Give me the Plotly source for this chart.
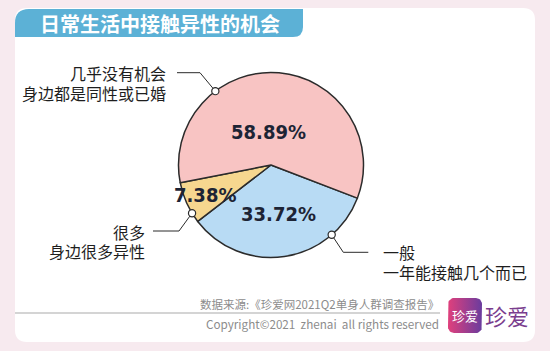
import math
import plotly.graph_objects as go

W, H = 550, 351

# ---- data ----
categories = ["一般", "很多", "几乎没有机会"]
values = [33.72, 7.38, 58.89]
pct_labels = ["33.72%", "7.38%", "58.89%"]
sub_labels = ["一年能接触几个而已", "身边很多异性", "身边都是同性或已婚"]
slice_colors = ["#b8dbf4", "#f6d78f", "#f8c4c3"]
title_text = "日常生活中接触异性的机会"
source_text = "数据来源:《珍爱网2021Q2单身人群调查报告》"
copyright_text = "Copyright©2021\u00a0\u00a0zhenai\u00a0\u00a0all rights reserved"
brand_text = "珍爱"

# ---- geometry / style ----
CX, CY, R = 271, 165, 92.5
ROT = 111
label_r = [0.53, 0.78, 0.36]
label_da = [0, 0, -9]
CJK = "Noto Sans CJK SC"
PCT_FONT = "DejaVu Sans Condensed, sans-serif"
INK = "#2b2b2b"

fig = go.Figure()

# logo with gradient (pixel coordinates on hidden axes)
def rrect(x0, y0, x1, y1, r, n=8):
    xs, ys = [], []
    corners = [(x1 - r, y0 + r, -90, 0), (x1 - r, y1 - r, 0, 90),
               (x0 + r, y1 - r, 90, 180), (x0 + r, y0 + r, 180, 270)]
    for cx, cy, a0, a1 in corners:
        for k in range(n + 1):
            a = math.radians(a0 + (a1 - a0) * k / n)
            xs.append(cx + r * math.cos(a))
            ys.append(cy + r * math.sin(a))
    xs.append(xs[0]); ys.append(ys[0])
    return xs, ys

lx, ly = rrect(448, 298, 482, 333, 6)
fig.add_trace(go.Scatter(
    x=lx, y=ly, mode="lines", fill="toself", line=dict(width=0),
    fillgradient=dict(type="horizontal",
                      colorscale=[[0, "#e0407c"], [1, "#6a3c9e"]]),
    hoverinfo="skip", showlegend=False))

fig.add_trace(go.Pie(
    values=values, labels=categories, sort=False, direction="clockwise",
    rotation=ROT, textinfo="none", hoverinfo="skip", showlegend=False,
    marker=dict(colors=slice_colors, line=dict(color=INK, width=1.5)),
    domain=dict(x=[(CX - R) / W, (CX + R) / W],
                y=[1 - (CY + R) / H, 1 - (CY - R) / H]),
))

shapes = []
# card
shapes.append(dict(type="path", xref="x", yref="y", layer="below",
                   path="M27,8 L523,8 Q535,8 535,20 L535,330 Q535,342 523,342 "
                        "L27,342 Q15,342 15,330 L15,20 Q15,8 27,8 Z",
                   fillcolor="#ffffff", line=dict(width=0)))
# title bar
shapes.append(dict(type="path", xref="x", yref="y", layer="below",
                   path="M15,23 Q15,9 29,9 L303,9 L303,27 Q303,37 293,37 L15,37 Z",
                   fillcolor="#5cb1d6", line=dict(width=0)))
# footer rule
shapes.append(dict(type="line", xref="x", yref="y", x0=15, x1=440, y0=313, y1=313,
                   line=dict(color="#a9a9a9", width=1)))

# callouts: (angle on rim, elbow, end)
def rim(a):
    return CX + R * math.sin(math.radians(a)), CY - R * math.cos(math.radians(a))

callouts = [
    (139, (343.3, 252.3), (368.3, 252.3)),
    (238.6, (179, 231), (153, 231)),
    (323, (200, 72.7), (177, 72.7)),
]
for a, (ex, ey), (tx, ty) in callouts:
    px, py = rim(a)
    shapes.append(dict(type="path", xref="x", yref="y", layer="above",
                       path=f"M{px:.1f},{py:.1f} L{ex},{ey} L{tx},{ty}",
                       line=dict(color=INK, width=1)))
    shapes.append(dict(type="circle", xref="x", yref="y", layer="above",
                       x0=px - 3.6, x1=px + 3.6, y0=py - 3.6, y1=py + 3.6,
                       fillcolor="#ffffff", line=dict(color=INK, width=1.2)))

annotations = []
# percentage labels positioned from cumulative values
total = sum(values)
cum = 0
for v, lab, f, da in zip(values, pct_labels, label_r, label_da):
    mid = math.radians(ROT + (cum + v / 2) / total * 360 + da)
    cum += v
    annotations.append(dict(
        x=CX + f * R * math.sin(mid), y=CY - f * R * math.cos(mid),
        xref="x", yref="y", text=lab, showarrow=False,
        font=dict(family=PCT_FONT, size=20, color="#1d2435", weight=700)))

# callout texts (two lines each)
text_pos = [(381, 252, 272, "left"), (147, 231.5, 251, "right"),
            (168, 73, 93, "right")]
for cat, sub, (x, y1, y2, al) in zip(categories, sub_labels, text_pos):
    for t, y in ((cat, y1), (sub, y2)):
        annotations.append(dict(
            x=x, y=y, xref="x", yref="y", text=t, showarrow=False,
            xanchor=al, yanchor="middle",
            font=dict(family=CJK, size=16, color="#1e1e1e")))

annotations += [
    dict(x=38, y=23, xref="x", yref="y", text=title_text, showarrow=False,
         xanchor="left", yanchor="middle",
         font=dict(family=CJK, size=20, color="#ffffff", weight=700)),
    dict(x=441, y=303.5, xref="x", yref="y", text=source_text, showarrow=False,
         xanchor="right", yanchor="middle",
         font=dict(family=CJK, size=11.5, color="#8c8c8c")),
    dict(x=441, y=323, xref="x", yref="y", text=copyright_text, showarrow=False,
         xanchor="right", yanchor="middle",
         font=dict(family=CJK, size=11.7, color="#8c8c8c")),
    dict(x=465, y=315.5, xref="x", yref="y", text=brand_text, showarrow=False,
         xanchor="center", yanchor="middle",
         font=dict(family=CJK, size=13, color="#ffffff")),
    dict(x=507, y=314.5, xref="x", yref="y", text=brand_text, showarrow=False,
         xanchor="center", yanchor="middle",
         font=dict(family=CJK, size=22, color="#7a3d8e")),
]

fig.update_layout(
    width=W, height=H, autosize=False,
    margin=dict(l=0, r=0, t=0, b=0),
    paper_bgcolor="#f7eaef", plot_bgcolor="rgba(0,0,0,0)",
    xaxis=dict(range=[0, W], visible=False, fixedrange=True),
    yaxis=dict(range=[H, 0], visible=False, fixedrange=True),
    shapes=shapes, annotations=annotations,
)

fig.write_html("out.html", config={"displayModeBar": False})
